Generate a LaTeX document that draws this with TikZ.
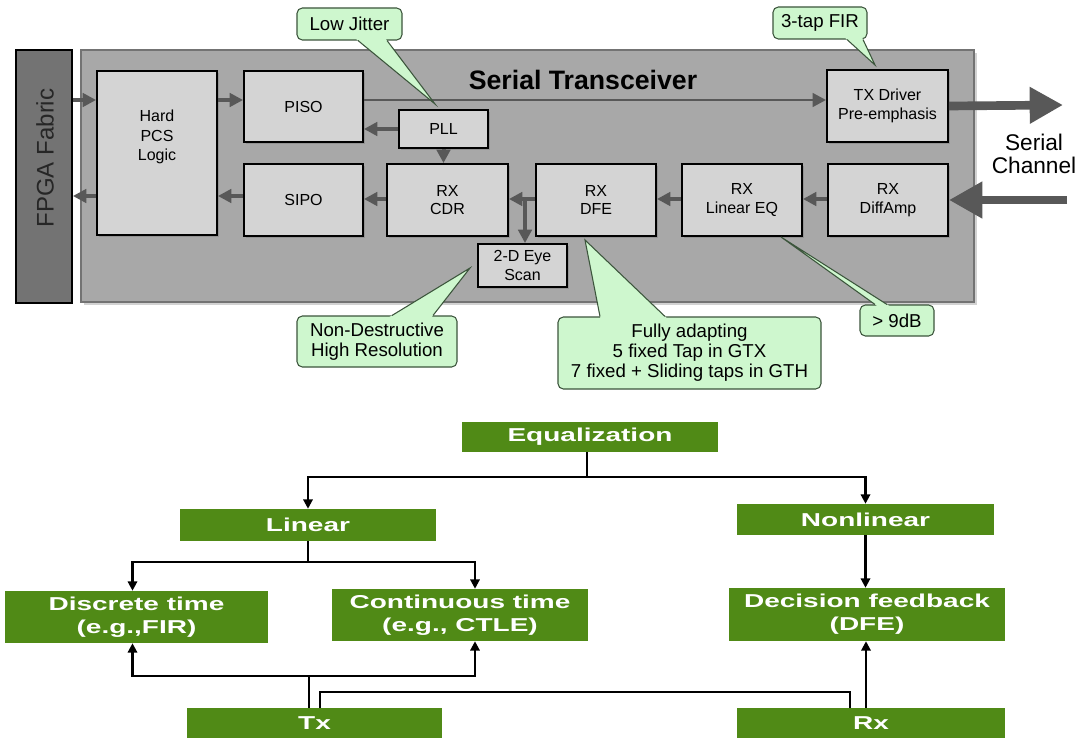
\documentclass[tikz,border=0pt]{standalone}
\usepackage{fontspec}
\usepackage{graphicx}
\setmainfont{Liberation Sans}
\usetikzlibrary{arrows.meta,calc,shadows}
\definecolor{eqgreen}{RGB}{80,138,22}
\definecolor{cofillc}{RGB}{206,247,206}
\definecolor{colinec}{RGB}{60,85,60}
\definecolor{xcvrc}{RGB}{168,168,168}
\definecolor{blkc}{RGB}{212,212,212}
\definecolor{fpgac}{RGB}{115,115,115}
\definecolor{arrc}{RGB}{88,88,88}
\newcommand\sx[1]{\scalebox{1.5}[1]{#1}}
\newcommand\callptr[3]{%
  \fill[cofillc] ($(#1)!-3pt!(#3)$) -- (#3) -- ($(#2)!-3pt!(#3)$) -- cycle;
  \draw[colinec, line width=0.8pt, line join=miter] (#1) -- (#3) -- (#2);}
\tikzset{
  wh/.style 2 args={minimum width=#1*0.75pt, minimum height=#2*0.75pt},
  xcvr/.style={draw=black!55, line width=1.2pt, fill=xcvrc, inner sep=0pt,
    drop shadow={shadow xshift=2pt, shadow yshift=-2pt, fill=black!35}},
  fpga/.style={draw=black, line width=1.4pt, fill=fpgac, inner sep=0pt},
  blk/.style={draw=black, line width=1.4pt, fill=blkc, inner sep=0pt, align=center,
    font=\fontsize{12}{14}\selectfont,
    drop shadow={shadow xshift=1.6pt, shadow yshift=-1.6pt, fill=black!50}},
  blktext/.style={inner sep=0pt, align=center, font=\fontsize{12}{14.5}\selectfont},
  arr/.style={draw=arrc, line width=3pt, -{Triangle[length=10pt,width=10pt]}},
  thinarr/.style={draw=arrc, line width=2.2pt, -{Triangle[length=10pt,width=10pt]}},
  bigarr/.style={draw=arrc, line width=6.5pt, -{Triangle[length=25pt,width=26pt]}},
  co/.style={draw=colinec, fill=cofillc, rounded corners=4pt, line width=0.8pt,
    inner sep=0pt, align=center, font=\fontsize{14}{15}\selectfont},
  gb/.style={fill=eqgreen, inner sep=0pt, text=white, align=center,
    font=\bfseries\fontsize{14}{17.5}\selectfont},
  cn/.style={draw=black, line width=1.6pt},
  cna/.style={cn, -{Triangle[length=7pt,width=7pt]}},
}
\begin{document}
\begin{tikzpicture}[x=0.75pt, y=-0.75pt]
\fill[white] (0,0) rectangle (1082,738);
\useasboundingbox (0,0) rectangle (1082,738);

% ---------------- top: serial transceiver ----------------
\node[xcvr, wh={893}{252}] (xcvr) at (527.5,176) {};
\node[fpga, wh={56}{253}] (fpga) at (44,176.5) {};
\node[rotate=90, inner sep=0pt, text=black!85, font=\fontsize{18}{20}\selectfont] (fpgat) at (45,158) {FPGA Fabric};
\node[inner sep=0pt, font=\bfseries\fontsize{20}{24}\selectfont] (title) at (583,80) {Serial Transceiver};

\node[blk, wh={120}{164}] (pcs) at (157,153) {};
\node[blktext] (pcst) at (157,137) {Hard\\PCS\\Logic};
\node[blk, wh={119}{71}] (piso) at (303.5,106.5) {PISO};
\node[blk, wh={119}{72}] (sipo) at (303.5,200) {SIPO};
\node[blk, wh={89}{38}] (pll) at (443.5,129) {PLL};
\node[blk, wh={121}{72}] (cdr) at (447.5,200) {RX\\CDR};
\node[blk, wh={120}{72}] (dfe) at (596,200) {RX\\DFE};
\node[blk, wh={120}{72}] (leq) at (742,200) {RX\\Linear EQ};
\node[blk, wh={120}{72}] (amp) at (888,200) {RX\\DiffAmp};
\node[blk, wh={121}{72}] (txd) at (887.5,106) {TX Driver\\Pre-emphasis};
\node[blk, wh={89}{43}] (eye) at (522.5,265.5) {2-D Eye\\Scan};

\coordinate (ya) at (0,100);
\coordinate (yb) at (0,196);
\coordinate (yd) at (0,199);
\coordinate (xb) at (525,0);

\draw[arr] (fpga.east |- ya) -- (pcs.west |- ya);
\draw[arr] (pcs.west |- yb) -- (fpga.east |- yb);
\draw[arr] (pcs.east |- ya) -- (piso.west |- ya);
\draw[arr] (sipo.west |- yb) -- (pcs.east |- yb);
\draw[thinarr] (piso.east |- ya) -- (txd.west |- ya);
\draw[arr] (pll.west) -- (piso.east |- pll.west);
\draw[arr] (pll.south) -- (cdr.north -| pll.south);
\draw[arr] (cdr.west |- yd) -- (sipo.east |- yd);
\draw[arr] (dfe.west |- yd) -- (cdr.east |- yd);
\draw[arr] (xb |- yd) -- (xb |- eye.north);
\draw[arr] (leq.west |- yd) -- (dfe.east |- yd);
\draw[arr] (amp.west |- yd) -- (leq.east |- yd);

\coordinate (outend) at (1063,105);
\coordinate (inbeg) at (1067,200);
\draw[bigarr] (txd.east) -- (outend);
\draw[bigarr] (inbeg) -- (amp.east);
\node[inner sep=0pt, align=center, font=\fontsize{17}{17.5}\selectfont] (chan) at (1034,154) {Serial\\Channel};

% callouts
\node[co, wh={105}{32}] (lj) at (349.5,24) {Low Jitter};
\coordinate (lj1) at ($(lj.south)+(8.5,0)$);
\coordinate (lj2) at ($(lj.south)+(37.5,0)$);
\coordinate (ljtip) at (435,104);
\callptr{lj1}{lj2}{ljtip}

\node[co, wh={94}{32}] (fir) at (820,23) {3-tap FIR};
\coordinate (fir1) at ($(fir.south)+(27,0)$);
\coordinate (fir2) at ($(fir.south)+(43,0)$);
\coordinate (firtip) at (875,65);
\callptr{fir1}{fir2}{firtip}

\node[co, wh={160}{51}] (nd) at (377,341.5) {Non-Destructive\\High Resolution};
\coordinate (nd1) at ($(nd.north)+(15,0)$);
\coordinate (nd2) at ($(nd.north)+(56,0)$);
\coordinate (ndtip) at (470,268);
\callptr{nd1}{nd2}{ndtip}

\node[co, wh={263}{72}] (fa) at (689.5,353) {Fully adapting\\5 fixed Tap in GTX\\7 fixed + Sliding taps in GTH};
\coordinate (fa1) at ($(fa.north)+(-89.5,0)$);
\coordinate (fa2) at ($(fa.north)+(-24.5,0)$);
\coordinate (fatip) at (585,240);
\callptr{fa1}{fa2}{fatip}

\node[co, wh={74}{31}] (db) at (897,320.5) {> 9dB};
\coordinate (db1) at ($(db.north)+(-22,0)$);
\coordinate (db2) at ($(db.north)+(-10,0)$);
\coordinate (dbtip) at (781,237);
\callptr{db1}{db2}{dbtip}

% ---------------- bottom: equalization tree ----------------
\node[gb, wh={256}{30}] (eq) at (590,437) {\sx{Equalization}};
\node[gb, wh={256}{32}] (lin) at (308,525) {\sx{Linear}};
\node[gb, wh={257}{31}] (nonlin) at (865.5,519.5) {\sx{Nonlinear}};
\node[gb, wh={263}{52}] (disc) at (136.5,617) {\sx{Discrete time}\\\sx{(e.g.,FIR)}};
\node[gb, wh={256}{52}] (cont) at (460,615) {\sx{Continuous time}\\\sx{(e.g., CTLE)}};
\node[gb, wh={276}{53}] (dfeb) at (867,614.5) {\sx{Decision feedback}\\\sx{(DFE)}};
\node[gb, wh={255}{30}] (tx) at (314.5,723) {\sx{Tx}};
\node[gb, wh={268}{30}] (rx) at (871,723) {\sx{Rx}};

\coordinate (eqs) at ($(eq.south)+(-3,0)$);
\coordinate (eqj) at ($(eqs)+(0,25)$);
\draw[cn] (eqs) -- (eqj);
\draw[cna] (eqj) -| (lin.north);
\draw[cna] (eqj) -| (nonlin.north);

\coordinate (linj) at ($(lin.south)+(0,21)$);
\coordinate (disca) at ($(disc.north)+(-4,0)$);
\coordinate (conta) at ($(cont.north)+(15,0)$);
\draw[cn] (lin.south) -- (linj);
\draw[cna] (linj) -| (disca);
\draw[cna] (linj) -| (conta);

\coordinate (txa) at ($(tx.north)+(-5.5,0)$);
\coordinate (txj) at ($(txa)+(0,-32)$);
\coordinate (discb) at ($(disc.south)+(-4,0)$);
\coordinate (contb) at ($(cont.south)+(15,0)$);
\draw[cn] (txa) -- (txj);
\draw[cna] (txj) -| (discb);
\draw[cna] (txj) -| (contb);

\coordinate (txb) at ($(tx.north)+(5.5,0)$);
\coordinate (rxb) at ($(rx.north)+(-21,0)$);
\draw[cn] (txb) -- ($(txb)+(0,-16)$) -| (rxb);

\coordinate (rxa) at ($(rx.north)+(-5,0)$);
\draw[cna] (rxa) -- (rxa |- dfeb.south);
\draw[cna] (nonlin.south) -- (nonlin.south |- dfeb.north);
\end{tikzpicture}
\end{document}
